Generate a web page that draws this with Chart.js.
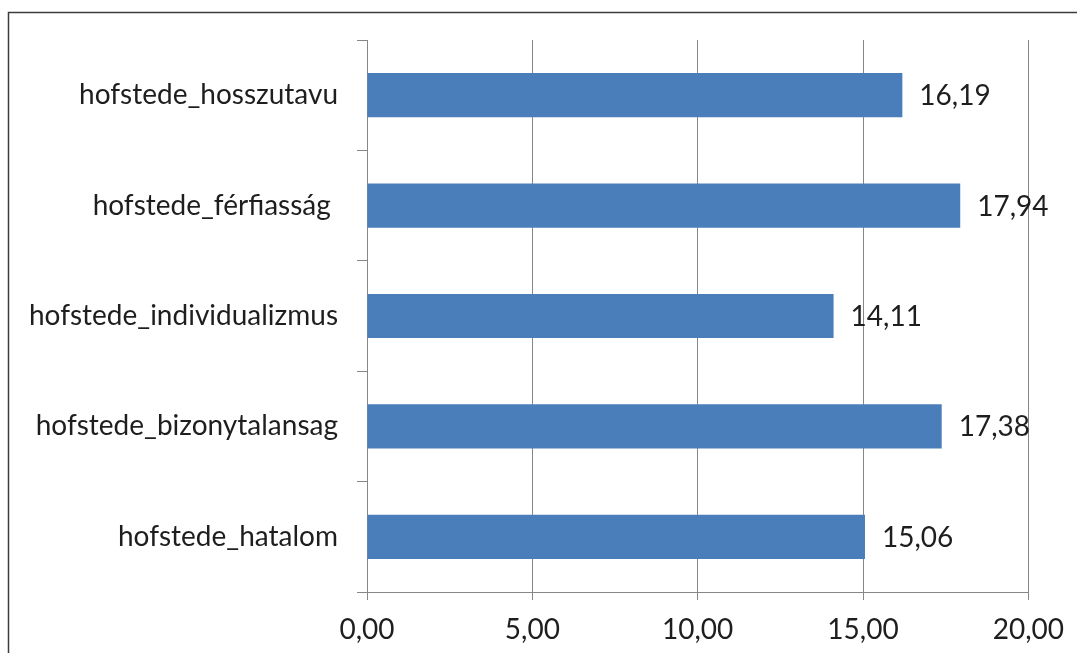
<!DOCTYPE html>
<html>
<head>
<meta charset="utf-8">
<script src="https://cdn.jsdelivr.net/npm/chart.js@4/dist/chart.umd.min.js"></script>
<style>
  html, body { margin: 0; padding: 0; background: #fff; overflow: hidden; }
  #wrap { position: relative; width: 1077px; height: 653px; }
</style>
</head>
<body>
<div id="wrap"><canvas id="myChart"></canvas></div>
<script>
const categories = [
  "hofstede_hosszutavu",
  "hofstede_férfiasság ",
  "hofstede_individualizmus",
  "hofstede_bizonytalansag",
  "hofstede_hatalom",
];
const values = [16.19, 17.94, 14.11, 17.38, 15.06];
const xTicks = [0, 5, 10, 15, 20];

const barColor = "rgb(74, 126, 187)";
const gridColor = "#878787";
const fontColor = "#1e1e1e";
const fontFamily = "Lato, 'Liberation Sans', sans-serif";
const fontSize = 28;

const huNumber = (v) => v.toFixed(2).replace(".", ",");

// outer frame of the chart object
const framePlugin = {
  id: "frame",
  beforeDraw(chart) {
    const ctx = chart.ctx;
    ctx.save();
    ctx.strokeStyle = "#3c3c3c";
    ctx.lineWidth = 1.5;
    ctx.strokeRect(8.5, 12.5, 1300, 900);
    ctx.restore();
  },
};

// value printed just past the end of every bar
const valueLabels = {
  id: "valueLabels",
  afterDatasetsDraw(chart) {
    const ctx = chart.ctx;
    const meta = chart.getDatasetMeta(0);
    ctx.save();
    ctx.font = fontSize + "px " + fontFamily;
    ctx.fillStyle = fontColor;
    ctx.textAlign = "left";
    ctx.textBaseline = "middle";
    meta.data.forEach((bar, i) => {
      ctx.fillText(huNumber(chart.data.datasets[0].data[i]), bar.x + 17, bar.y + 1);
    });
    ctx.restore();
  },
};

const config = {
  type: "bar",
  data: {
    labels: categories,
    datasets: [
      {
        data: values,
        backgroundColor: barColor,
        borderWidth: 0,
        barPercentage: 0.4,
        categoryPercentage: 1,
      },
    ],
  },
  options: {
    indexAxis: "y",
    responsive: true,
    maintainAspectRatio: false,
    animation: false,
    layout: { padding: { top: 40, right: 44, left: 0, bottom: 0 } },
    plugins: {
      legend: { display: false },
      tooltip: { enabled: false },
    },
    scales: {
      x: {
        min: 0,
        max: 20,
        afterBuildTicks(scale) {
          scale.ticks = xTicks.map((v) => ({ value: v }));
        },
        afterFit(scale) {
          scale.height = 61;
        },
        grid: {
          color: gridColor,
          lineWidth: 1,
          tickLength: 8,
          drawOnChartArea: true,
        },
        border: { color: gridColor, width: 1 },
        ticks: {
          color: fontColor,
          padding: 13,
          maxRotation: 0,
          font: { family: fontFamily, size: fontSize },
          callback: (v) => huNumber(v),
        },
      },
      y: {
        afterFit(scale) {
          scale.width = 367;
        },
        grid: {
          offset: true,
          drawOnChartArea: false,
          color: gridColor,
          tickLength: 10,
        },
        border: { color: gridColor, width: 1 },
        ticks: {
          color: fontColor,
          padding: 19,
          font: { family: fontFamily, size: fontSize },
        },
      },
    },
  },
  plugins: [framePlugin, valueLabels],
};

new Chart(document.getElementById("myChart"), config);
</script>
</body>
</html>
